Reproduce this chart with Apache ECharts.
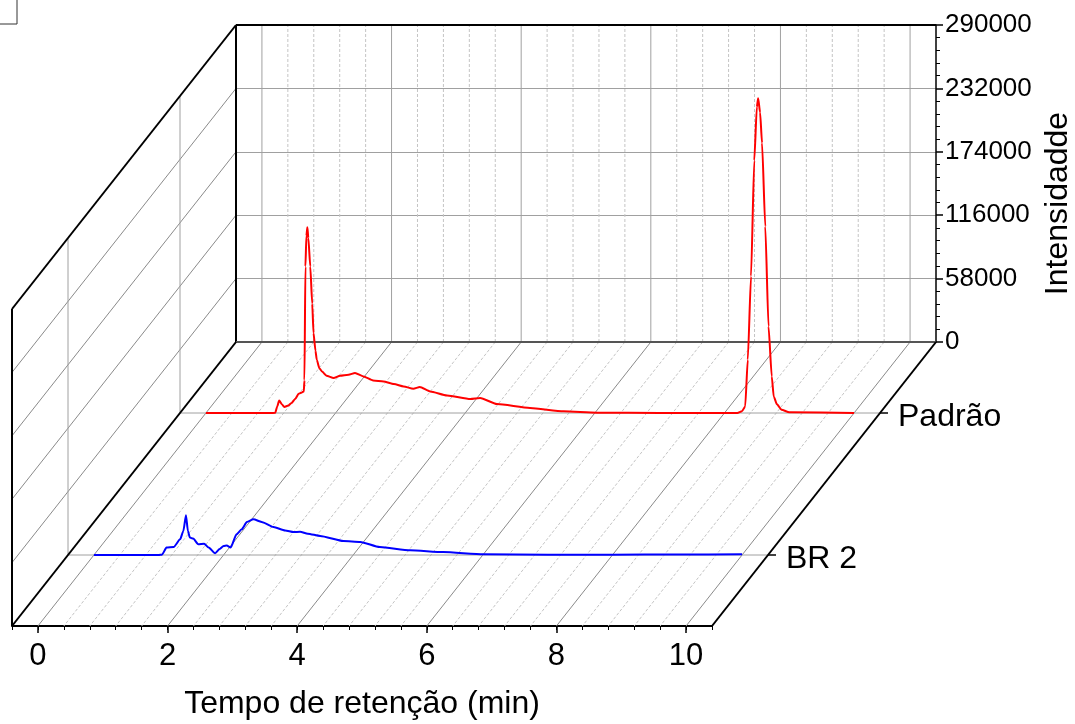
<!DOCTYPE html>
<html>
<head>
<meta charset="utf-8">
<title>Cromatograma - Padrão / BR 2</title>
<script src="https://cdn.jsdelivr.net/npm/echarts@6/dist/echarts.min.js"></script>
<style>
  html, body { margin: 0; padding: 0; background: #fff; }
  #chart { width: 1075px; height: 724px; }
</style>
</head>
<body>
<div id="chart"></div>
<script>
// eixos
var X_MIN = -0.4, X_MAX = 10.4;
var Y_MIN = 0, Y_MAX = 290000;
var xMajorTicks = [0, 2, 4, 6, 8, 10];
var xMinorStep = 0.4;
var yTicks = [0, 58000, 116000, 174000, 232000, 290000];

// amostras (profundidade 0 = parede do fundo, 1 = frente)
var sampleNames = ['Padrão', 'BR 2'];
var sampleDepths = [0.25, 0.75];
var sampleColors = ['#ff0000', '#0000ff'];

// Padrão
var padraoTime = [0, 1.0, 1.07, 1.10, 1.13, 1.17, 1.21, 1.27, 1.32, 1.38, 1.43, 1.48, 1.51, 1.52, 1.535, 1.55,
  1.565, 1.58, 1.61, 1.64, 1.66, 1.69, 1.71, 1.75, 1.79, 1.86, 1.97, 2.07, 2.20, 2.30, 2.43, 2.58, 2.74, 2.90,
  3.05, 3.20, 3.30, 3.46, 3.72, 4.08, 4.23, 4.49, 5.00, 5.52, 6.03, 7.0, 8.20, 8.27, 8.32, 8.36, 8.41, 8.46,
  8.50, 8.52, 8.55, 8.58, 8.63, 8.68, 8.73, 8.76, 8.81, 8.88, 9.0, 10.0];
var padraoInt = [0, 0, 200, 6000, 11500, 8000, 5500, 6800, 9100, 13000, 17600, 18800, 19700, 30000, 134000, 162000,
  170000, 160000, 134000, 100000, 73100, 57000, 48700, 41000, 38000, 34100, 32000, 34100, 35000, 36600, 33500, 29800, 28900, 26500,
  24300, 22200, 23800, 19700, 16100, 12800, 13700, 8200, 4600, 1500, 300, 0, 0, 1500, 6000, 48800, 125000, 231000,
  280000, 288000, 275000, 247000, 170600, 79200, 33500, 15200, 8000, 3000, 600, 0];

// BR 2
var br2Time = [0, 1.0, 1.05, 1.12, 1.23, 1.33, 1.38, 1.42, 1.45, 1.48, 1.53, 1.61, 1.70, 1.77, 1.87, 1.94, 2.0, 2.05,
  2.11, 2.20, 2.28, 2.36, 2.46, 2.60, 2.77, 2.95, 3.08, 3.18, 3.30, 3.49, 3.85, 4.11, 4.41, 4.88, 5.39, 6.01, 7.0,
  8.0, 9.0, 10.0];
var br2Int = [0, 0, 300, 6800, 7300, 14300, 22000, 36300, 22000, 15900, 15000, 9800, 10400, 6800, 1600, 5500, 8200, 8600,
  6800, 18900, 23500, 30200, 32600, 30000, 25600, 22500, 21000, 21300, 19500, 17400, 12800, 12000, 7300, 4300, 2700, 600, 200,
  300, 400, 600];

// layout da caixa 3D
var BOX = { left: 236, top: 25, width: 700, height: 317 };
var DEPTH = { dx: -224, dy: 284 };
var FONT = 'Liberation Sans, Arial, Helvetica, sans-serif';

function zip(a, b) {
  var out = [];
  for (var i = 0; i < a.length; i++) out.push([a[i], b[i]]);
  return out;
}

function gridAt(d) {
  return {
    left: BOX.left + d * DEPTH.dx,
    top: BOX.top + d * DEPTH.dy,
    width: BOX.width,
    height: BOX.height,
    containLabel: false,
    outerBoundsMode: 'none'
  };
}

var xGridValues = [];
var xMinorTicks = [];
for (var k = 0; X_MIN + k * xMinorStep <= X_MAX + 1e-9; k++) {
  var v = Math.round((X_MIN + k * xMinorStep) * 10) / 10;
  xMinorTicks.push(v);
  if (v > X_MIN && v < X_MAX) xGridValues.push([v, xMajorTicks.indexOf(v) >= 0 ? 1 : 0]);
}

var solidBack = { stroke: '#a0a0a0', lineWidth: 1 };
var solidFloor = { stroke: '#8a8a8a', lineWidth: 1 };
var dashed = { stroke: '#c4c4c4', lineWidth: 1, lineDash: [3, 2] };
var edge = { stroke: '#000', lineWidth: 2 };

function seg(p, q, style) {
  return { type: 'line', shape: { x1: p[0], y1: p[1], x2: q[0], y2: q[1] }, style: style };
}
function shift(p, d) {
  return [p[0] + d * DEPTH.dx, p[1] + d * DEPTH.dy];
}

var grids = [gridAt(0)];
var xAxes = [{ gridIndex: 0, type: 'value', min: X_MIN, max: X_MAX, show: false }];
var yAxes = [{
  gridIndex: 0, type: 'value', min: Y_MIN, max: Y_MAX, interval: 58000, position: 'right',
  axisLine: { show: true, onZero: false, lineStyle: { color: '#000', width: 1.5 } },
  axisTick: { show: true, inside: false, length: 7, lineStyle: { color: '#000', width: 1.5 } },
  minorTick: { show: true, splitNumber: 5, length: 4, lineStyle: { color: '#000', width: 1 } },
  axisLabel: {
    color: '#000', fontSize: 26, fontFamily: FONT, margin: 9,
    formatter: function (val) { return String(val); }
  },
  splitLine: { show: true, lineStyle: { color: '#a0a0a0', width: 1 } },
  name: 'Intensidadde', nameLocation: 'middle', nameRotate: 90, nameGap: 104,
  nameTextStyle: { color: '#000', fontSize: 32, fontFamily: FONT, padding: [0, 40, 0, 0] }
}];

var series = [];

// parede do fundo (verticais) e chão (oblíquas)
series.push({
  type: 'custom', xAxisIndex: 0, yAxisIndex: 0, clip: false, z: 1, silent: true,
  data: xGridValues,
  renderItem: function (params, api) {
    var t = api.value(0);
    var major = api.value(1) === 1;
    var bot = api.coord([t, Y_MIN]);
    var top = api.coord([t, Y_MAX]);
    return {
      type: 'group',
      children: [
        seg(bot, top, major ? solidBack : dashed),
        seg(bot, shift(bot, 1), major ? solidFloor : dashed)
      ]
    };
  }
});

// parede esquerda (oblíquas nas marcas de intensidade)
series.push({
  type: 'custom', xAxisIndex: 0, yAxisIndex: 0, clip: false, z: 1, silent: true,
  data: yTicks.filter(function (v) { return v > Y_MIN && v < Y_MAX; }).map(function (v) { return [X_MIN, v]; }),
  renderItem: function (params, api) {
    var p = api.coord([X_MIN, api.value(1)]);
    return seg(p, shift(p, 1), solidFloor);
  }
});

// linhas de profundidade + rótulos das amostras
series.push({
  type: 'custom', xAxisIndex: 0, yAxisIndex: 0, clip: false, z: 1, silent: true,
  data: sampleDepths.map(function (d, i) { return [X_MAX, 0, d, i]; }),
  renderItem: function (params, api) {
    var d = api.value(2);
    var name = sampleNames[api.value(3)];
    var l0 = shift(api.coord([X_MIN, Y_MIN]), d);
    var l1 = shift(api.coord([X_MIN, Y_MAX]), d);
    var r0 = shift(api.coord([X_MAX, Y_MIN]), d);
    return {
      type: 'group',
      children: [
        seg(l0, l1, solidBack),
        seg(l0, r0, solidBack),
        seg(r0, [r0[0] + 8, r0[1]], { stroke: '#000', lineWidth: 1.5 }),
        {
          type: 'text', x: r0[0] + 18, y: r0[1] + 4,
          style: { text: name, fill: '#000', font: '32px ' + FONT, textVerticalAlign: 'middle', textAlign: 'left' }
        }
      ]
    };
  }
});

// arestas da caixa
series.push({
  type: 'custom', xAxisIndex: 0, yAxisIndex: 0, clip: false, z: 2, silent: true,
  data: [[X_MIN, Y_MIN]],
  renderItem: function (params, api) {
    var bl = api.coord([X_MIN, Y_MIN]);
    var tl = api.coord([X_MIN, Y_MAX]);
    var br = api.coord([X_MAX, Y_MIN]);
    var tr = api.coord([X_MAX, Y_MAX]);
    return {
      type: 'group',
      children: [
        seg(tl, tr, edge),
        seg(bl, tl, edge),
        seg(bl, br, { stroke: '#555', lineWidth: 2 }),
        seg(tl, shift(tl, 1), edge),
        seg(shift(tl, 1), shift(bl, 1), edge),
        seg(bl, shift(bl, 1), edge),
        seg(br, shift(br, 1), edge)
      ]
    };
  }
});

// curvas
var traces = [zip(padraoTime, padraoInt), zip(br2Time, br2Int)];
sampleDepths.forEach(function (d, i) {
  grids.push(gridAt(d));
  xAxes.push({ gridIndex: i + 1, type: 'value', min: X_MIN, max: X_MAX, show: false });
  yAxes.push({ gridIndex: i + 1, type: 'value', min: Y_MIN, max: Y_MAX, show: false });
  series.push({
    name: sampleNames[i], type: 'line', xAxisIndex: i + 1, yAxisIndex: i + 1,
    data: traces[i], showSymbol: false, symbol: 'none', z: 5, clip: false,
    smooth: 0.2, smoothMonotone: 'x',
    lineStyle: { color: sampleColors[i], width: 2 }
  });
});

// eixo do tempo (frente)
var front = grids.length;
grids.push(gridAt(1));
xAxes.push({
  gridIndex: front, type: 'value', min: X_MIN, max: X_MAX, position: 'bottom',
  axisLine: { show: true, onZero: false, lineStyle: { color: '#000', width: 2 } },
  axisTick: { show: true, length: 7, customValues: xMajorTicks, lineStyle: { color: '#000', width: 1.5 } },
  axisLabel: { customValues: xMajorTicks, color: '#000', fontSize: 31, fontFamily: FONT, margin: 15 },
  splitLine: { show: false },
  name: 'Tempo de retenção (min)', nameLocation: 'middle', nameGap: 62,
  nameTextStyle: { color: '#000', fontSize: 32, fontFamily: FONT }
});
xAxes.push({
  gridIndex: front, type: 'value', min: X_MIN, max: X_MAX, position: 'bottom',
  axisLine: { show: false, onZero: false },
  axisTick: { show: true, length: 4, customValues: xMinorTicks, lineStyle: { color: '#000', width: 1 } },
  axisLabel: { show: false },
  splitLine: { show: false }
});
yAxes.push({ gridIndex: front, type: 'value', min: Y_MIN, max: Y_MAX, show: false });

var myChart = echarts.init(document.getElementById('chart'));
myChart.setOption({
  animation: false,
  backgroundColor: '#fff',
  graphic: [{
    type: 'rect', x: -6, y: -6, shape: { width: 23, height: 30 },
    style: { fill: 'none', stroke: '#333', lineWidth: 1 }
  }],
  grid: grids,
  xAxis: xAxes,
  yAxis: yAxes,
  series: series
});
</script>
</body>
</html>
